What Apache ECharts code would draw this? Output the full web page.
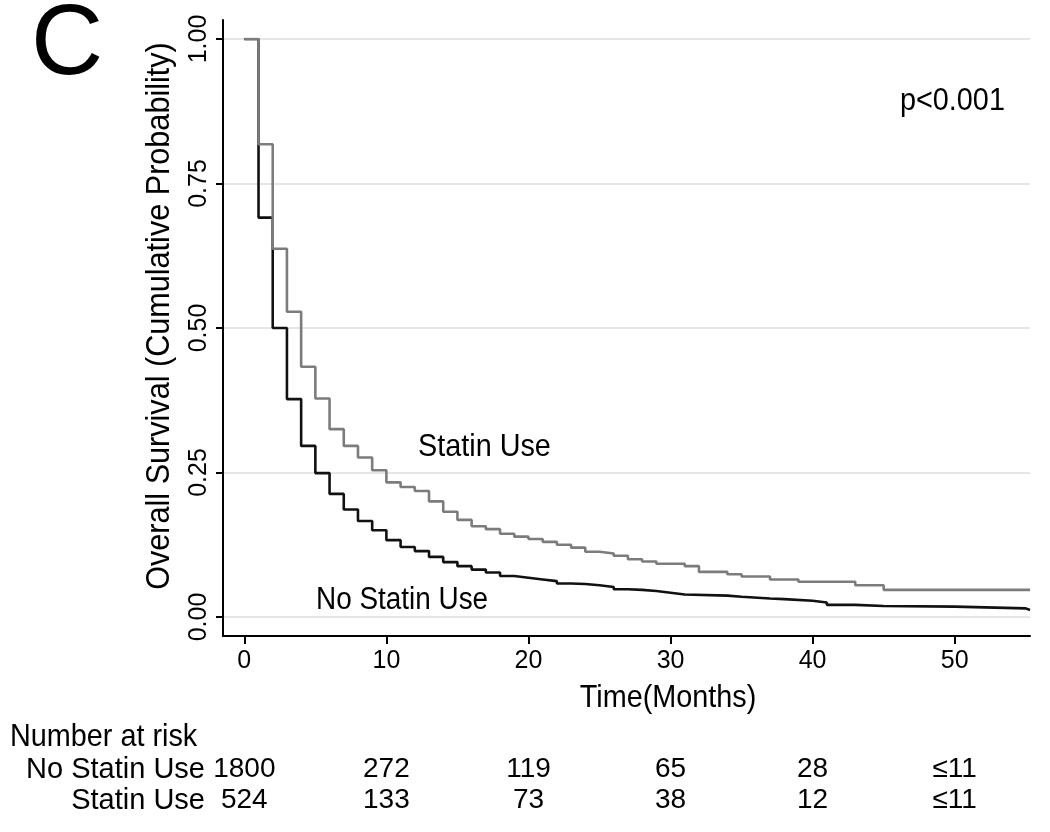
<!DOCTYPE html>
<html><head><meta charset="utf-8">
<script src="https://cdn.jsdelivr.net/npm/echarts@6/dist/echarts.min.js"></script>
<style>html,body{margin:0;padding:0;background:#fff}#c{width:1050px;height:832px}</style>
</head><body><div id="c"></div>
<script>
// ---- data ----
const statinTime = [0,1,2,3,4,5,6,7,8,9,10,11,12,13,14,15,16,17,18,19,20,21,22,23,24,25,26,27,28,29,31,32,34,35,37,39,43,45,55.3];
const statinSurv = [1.00,0.818,0.637,0.528,0.433,0.378,0.325,0.296,0.276,0.254,0.233,0.225,0.218,0.200,0.182,0.168,0.157,0.152,0.144,0.139,0.135,0.130,0.125,0.120,0.113,0.110,0.106,0.100,0.096,0.092,0.088,0.078,0.074,0.070,0.065,0.061,0.055,0.047,0.047];
const noStatinTime = [0,1,2,3,4,5,6,7,8,9,10,11,12,13,14,15,16,17,18,19,20,21,22,23,24,25,26,27,28,29,30,31,34,35,37,38,40,41,43,45,50,55,55.3];
const noStatinSurv = [1.00,0.691,0.500,0.377,0.296,0.249,0.213,0.186,0.166,0.150,0.133,0.121,0.114,0.104,0.095,0.088,0.082,0.077,0.071,0.068,0.065,0.062,0.058,0.057,0.055,0.052,0.048,0.047,0.045,0.042,0.039,0.037,0.035,0.032,0.031,0.028,0.025,0.021,0.019,0.018,0.015,0.012,0.012];
const xTicks = [0,10,20,30,40,50];
const yTicks = [0,0.25,0.5,0.75,1];
const riskTimes = [0,10,20,30,40,50];
const riskGroups = ['Statin Use','No Statin Use'];
const riskNoStatin = ['1800','272','119','65','28','≤11'];
const riskStatin = ['524','133','73','38','12','≤11'];

// ---- chart ----
const FONT = '"Liberation Sans", Arial, Helvetica, sans-serif';
const SX = 0.9; // slight horizontal condensing of free text, as in the reference
const xMin = -1.5, xMax = 55.3;
function pairs(t, s){ return t.map((v,i)=>[v, s[i]]); }
const chart = echarts.init(document.getElementById('c'), null, {renderer:'canvas'});
const riskData = [];
riskTimes.forEach((t,i)=>{
  riskData.push([t,'No Statin Use',riskNoStatin[i]]);
  riskData.push([t,'Statin Use',riskStatin[i]]);
});
function txt(x, y, text, size, align, extra){
  return Object.assign({type:'text', x:x, y:y, scaleX:SX,
    style:{text:text, fontSize:size, fontFamily:FONT, fill:'#000', align:align, verticalAlign:'middle'}}, extra || {});
}
chart.setOption({
  animation:false,
  backgroundColor:'#ffffff',
  grid:[
    {left:223,right:20,top:39,bottom:215},
    {left:223,right:20,top:20,bottom:196},
    {left:223,right:20,top:754,height:62}
  ],
  xAxis:[
    {gridIndex:0,type:'value',min:xMin,max:xMax,show:false},
    {gridIndex:1,type:'value',min:xMin,max:xMax,
      axisLine:{show:true,onZero:false,lineStyle:{color:'#000',width:2}},
      axisTick:{show:true,customValues:xTicks,length:8,lineStyle:{color:'#000',width:2}},
      axisLabel:{show:true,customValues:xTicks,margin:13,fontSize:25,color:'#000',fontFamily:FONT},
      splitLine:{show:false}},
    {gridIndex:2,type:'value',min:xMin,max:xMax,show:false}
  ],
  yAxis:[
    {gridIndex:0,type:'value',min:0,max:1,interval:0.25,
      axisLine:{show:false,onZero:false},
      axisTick:{show:true,length:7,lineStyle:{color:'#000',width:2}},
      axisLabel:{rotate:90,margin:11,fontSize:25,color:'#000',fontFamily:FONT,formatter:v=>v.toFixed(2)},
      splitLine:{show:true,lineStyle:{color:'#e6e6e6',width:2}}},
    {gridIndex:1,type:'value',min:-0.033,max:1.033,
      axisLine:{show:true,onZero:false,lineStyle:{color:'#000',width:2}},
      axisTick:{show:false},axisLabel:{show:false},splitLine:{show:false}},
    {gridIndex:2,type:'category',data:riskGroups,
      axisLine:{show:false,onZero:false},axisTick:{show:false},splitLine:{show:false},
      axisLabel:{interval:0,fontSize:29,color:'#000',margin:18,fontFamily:FONT}}
  ],
  graphic:[
    {type:'text',x:67,y:46,style:{text:'C',fontSize:100,fontFamily:FONT,fill:'#000',align:'center',verticalAlign:'middle'}},
    txt(900,101,'p<0.001',32,'left'),
    txt(418,447,'Statin Use',32,'left'),
    txt(316,600,'No Statin Use',31,'left'),
    txt(668,698,'Time(Months)',32,'center'),
    {type:'text',x:160,y:316,rotation:Math.PI/2,scaleX:SX,
      style:{text:'Overall Survival (Cumulative Probability)',fontSize:34,fontFamily:FONT,fill:'#000',align:'center',verticalAlign:'middle'}},
    txt(10,737,'Number at risk',32,'left')
  ],
  series:[
    {name:'No Statin Use',type:'line',xAxisIndex:0,yAxisIndex:0,step:'end',showSymbol:false,
      data:pairs(noStatinTime,noStatinSurv),lineStyle:{color:'#111',width:2.6},z:3},
    {name:'Statin Use',type:'line',xAxisIndex:0,yAxisIndex:0,step:'end',showSymbol:false,
      data:pairs(statinTime,statinSurv),lineStyle:{color:'#7c7c7c',width:2.6},z:4},
    {name:'risk',type:'scatter',xAxisIndex:2,yAxisIndex:2,symbolSize:0,data:riskData,
      itemStyle:{color:'#000',opacity:1},
      label:{show:true,position:'inside',formatter:p=>p.data[2],fontSize:28,color:'#000',opacity:1,
        textBorderWidth:0,textBorderColor:'transparent',fontFamily:FONT}}
  ]
});
</script></body></html>
